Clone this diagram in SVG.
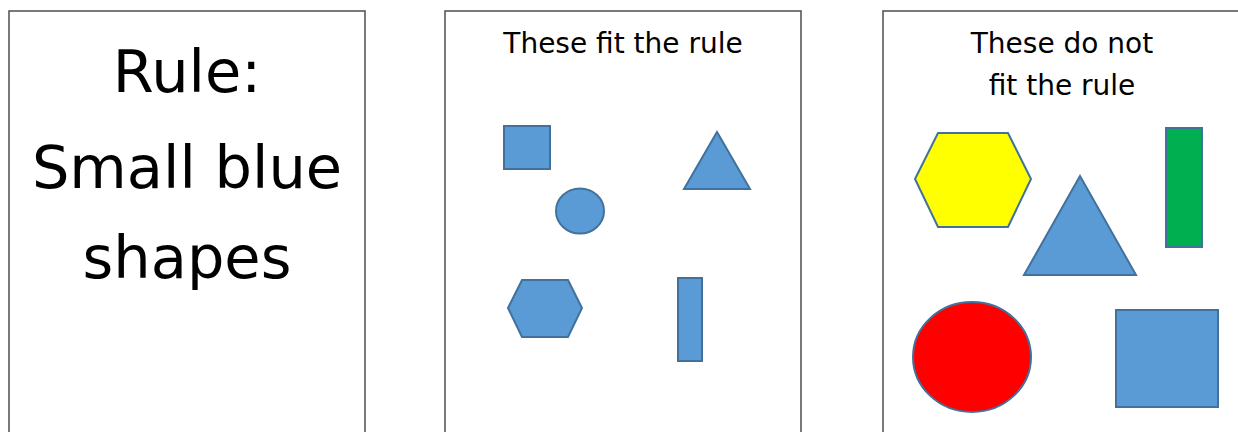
<svg xmlns="http://www.w3.org/2000/svg" width="1238" height="432" viewBox="0 0 1238 432">
<style>
.panel{fill:#fff;stroke:#4d4d4d;stroke-width:1.5}
.big{font-family:"DejaVu Sans","Liberation Sans",sans-serif;font-size:59px;fill:#000;text-anchor:middle}
.title{font-family:"DejaVu Sans","Liberation Sans",sans-serif;font-size:28px;fill:#000;text-anchor:middle}
.blue{fill:#5B9BD5;stroke:#41719C;stroke-width:2}
.yellow{fill:#FFFF00;stroke:#41719C;stroke-width:2}
.green{fill:#00B050;stroke:#41719C;stroke-width:2}
.red{fill:#FF0000;stroke:#41719C;stroke-width:2}
</style>
<rect width="1238" height="432" fill="#fff"/>
<g id="panel-rule">
<rect class="panel" x="9" y="11" width="356" height="430"/>
<text class="big" x="187" y="92">Rule:</text>
<text class="big" x="187" y="188">Small blue</text>
<text class="big" x="187" y="278">shapes</text>
</g>
<g id="panel-fit">
<rect class="panel" x="445" y="11" width="356" height="430"/>
<text class="title" x="623" y="53">These fit the rule</text>
<rect id="fit-square" class="blue" x="504" y="126" width="46" height="43"/>
<polygon id="fit-triangle" class="blue" points="717,132 684,189 750,189"/>
<ellipse id="fit-circle" class="blue" cx="580" cy="211" rx="24" ry="22.5"/>
<polygon id="fit-hexagon" class="blue" points="508,308 522,280 568,280 582,308 568,337 522,337"/>
<rect id="fit-rect" class="blue" x="678" y="278" width="24" height="83"/>
</g>
<g id="panel-notfit">
<rect class="panel" x="883" y="11" width="370" height="430"/>
<text class="title" x="1062" y="53">These do not</text>
<text class="title" x="1062" y="95">fit the rule</text>
<polygon id="nf-hexagon" class="yellow" points="915,179 938,133 1008,133 1031,179 1008,227 938,227"/>
<polygon id="nf-triangle" class="blue" points="1080,176 1024,275 1136,275"/>
<rect id="nf-rect" class="green" x="1166" y="128" width="36" height="119"/>
<ellipse id="nf-circle" class="red" cx="972" cy="357" rx="59" ry="55"/>
<rect id="nf-square" class="blue" x="1116" y="310" width="102" height="97"/>
</g>
</svg>
